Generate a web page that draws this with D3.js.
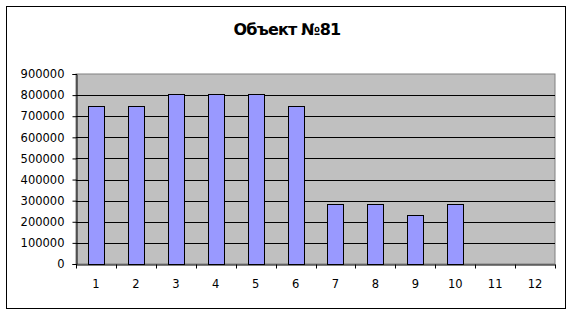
<!DOCTYPE html>
<html lang="ru">
<head>
<meta charset="UTF-8">
<title>Объект №81</title>
<script src="https://d3js.org/d3.v7.min.js"></script>
<style>
  body { margin: 0; background: #fff; }
  text { font-family: "DejaVu Sans", Verdana, sans-serif; }
</style>
</head>
<body>
<script>
  // chart data
  var categories = ["1", "2", "3", "4", "5", "6", "7", "8", "9", "10", "11", "12"];
  var values = [750000, 750000, 805000, 805000, 805000, 750000, 285000, 285000, 230000, 285000, null, null];
  var yTicks = [0, 100000, 200000, 300000, 400000, 500000, 600000, 700000, 800000, 900000];
  var title = "Объект №81";

  var W = 572, H = 315;
  var margin = {top: 74, right: 17, bottom: 51, left: 76},
      width = W - margin.left - margin.right,
      height = H - margin.top - margin.bottom;

  var svg = d3.select("body").append("svg")
      .attr("width", W)
      .attr("height", H);

  // outer frame
  svg.append("rect")
      .attr("x", 6.5).attr("y", 6.5)
      .attr("width", 559).attr("height", 302)
      .attr("fill", "#fff")
      .attr("stroke", "#000")
      .attr("stroke-width", 1);

  svg.append("text")
      .attr("x", 287)
      .attr("y", 35)
      .attr("text-anchor", "middle")
      .attr("font-size", 16)
      .attr("font-weight", "bold")
      .attr("letter-spacing", -0.8)
      .text(title);

  var g = svg.append("g")
      .attr("transform", "translate(" + margin.left + "," + margin.top + ")");

  var x = d3.scaleBand()
      .domain(categories)
      .range([0, width])
      .paddingInner(0.6)
      .paddingOuter(0.3);

  var y = d3.scaleLinear()
      .domain([0, 900000])
      .range([height, 0]);

  // plot area
  g.append("rect")
      .attr("x", 0).attr("y", 0)
      .attr("width", width).attr("height", height)
      .attr("fill", "#c0c0c0")
      .attr("stroke", "#808080");

  // gridlines
  g.selectAll(".grid")
    .data(yTicks.slice(1, -1))
    .enter().append("line")
      .attr("x1", 0).attr("x2", width)
      .attr("y1", function(d) { return Math.round(y(d)) + 0.5; })
      .attr("y2", function(d) { return Math.round(y(d)) + 0.5; })
      .attr("stroke", "#000");

  // bars
  g.selectAll(".bar")
    .data(values.map(function(v, i) { return {cat: categories[i], v: v}; })
      .filter(function(d) { return d.v != null; }))
    .enter().append("rect")
      .attr("x", function(d) { return Math.round(x(d.cat)) + 0.5; })
      .attr("y", function(d) { return Math.round(y(d.v)) + 0.5; })
      .attr("width", Math.round(x.bandwidth()))
      .attr("height", function(d) { return Math.round(height - y(d.v)); })
      .attr("fill", "#9999ff")
      .attr("stroke", "#000");

  // y axis
  var yAxis = g.append("g")
      .attr("transform", "translate(0.5,0)")
      .call(d3.axisLeft(y).tickValues(yTicks).tickFormat(d3.format("d")).tickSizeOuter(0).tickSize(4).tickPadding(8));

  // x axis
  var xAxis = g.append("g")
      .attr("transform", "translate(0," + (height + 0.5) + ")")
      .call(d3.axisBottom(x).tickSize(0).tickPadding(15));

  // x ticks between categories
  xAxis.selectAll(".sep")
    .data(d3.range(categories.length + 1))
    .enter().append("line")
      .attr("x1", function(i) { return Math.round(i * x.step()) + 0.5; })
      .attr("x2", function(i) { return Math.round(i * x.step()) + 0.5; })
      .attr("y1", 0).attr("y2", 4)
      .attr("stroke", "#000");

  [yAxis, xAxis].forEach(function(a) {
    a.selectAll("text")
      .attr("font-family", "DejaVu Sans, Verdana, sans-serif")
      .attr("font-size", 11.5)
      .attr("fill", "#000");
    a.select(".domain").attr("stroke", "#000");
  });
</script>
</body>
</html>
